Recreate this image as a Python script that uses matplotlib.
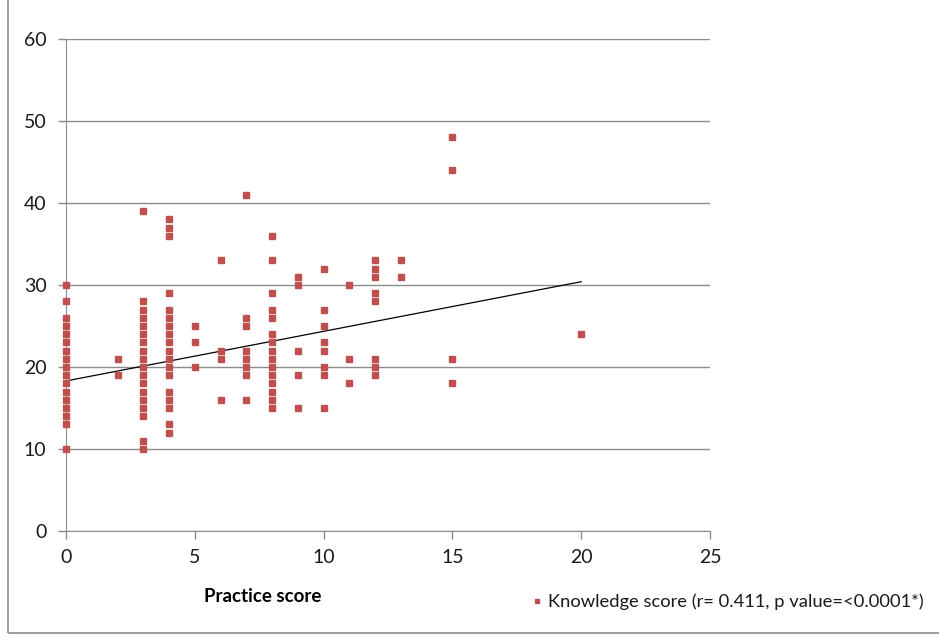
import matplotlib
matplotlib.use("Agg")
import matplotlib.pyplot as plt
from matplotlib.patches import Rectangle
import numpy as np

# knowledge scores read per practice score column
practice_levels = [0, 2, 3, 4, 5, 6, 7, 8, 9, 10, 11, 12, 13, 15, 20]
knowledge_by_level = [
    [30, 28, 26, 25, 24, 23, 22, 21, 20, 19, 18, 17, 16, 15, 14, 13, 10],
    [21, 19],
    [39, 28, 27, 26, 25, 24, 23, 22, 21, 20, 19, 18, 17, 16, 15, 14, 11, 10],
    [38, 37, 36, 29, 27, 26, 25, 24, 23, 22, 21, 20, 19, 17, 16, 15, 13, 12],
    [25, 23, 20],
    [33, 22, 21, 16],
    [41, 26, 25, 22, 21, 20, 19, 16],
    [36, 33, 29, 27, 26, 24, 23, 22, 21, 20, 19, 18, 17, 16, 15],
    [31, 30, 22, 19, 15],
    [32, 27, 25, 23, 22, 20, 19, 15],
    [30, 21, 18],
    [33, 32, 31, 29, 28, 21, 20, 19],
    [33, 31],
    [48, 44, 21, 18],
    [24],
]

# trend line as drawn in the original (hidden duplicate points shift it from a refit)
trend_x = [0, 20]
trend_y = [18.3, 30.4]

x_ticks = [0, 5, 10, 15, 20, 25]
y_ticks = [0, 10, 20, 30, 40, 50, 60]
legend_label = "Knowledge score (r= 0.411, p value=<0.0001*)"
x_label = "Practice score"

practice = np.concatenate([[p] * len(k) for p, k in zip(practice_levels, knowledge_by_level)])
knowledge = np.concatenate(knowledge_by_level)

plt.rcParams["font.family"] = ["Lato", "DejaVu Sans"]

fig = plt.figure(figsize=(9.39, 6.41), dpi=100)
ax = fig.add_axes([66 / 939, 110 / 641, 644 / 939, 492 / 641])

grid_color = "#8c8c8c"
ax.set_axisbelow(True)
ax.yaxis.grid(True, color=grid_color, linewidth=1)

ax.plot(practice, knowledge, "s", color="#C0504D", markersize=4.2, linestyle="none",
        label=legend_label, zorder=3, clip_on=False)
ax.plot(trend_x, trend_y, color="black", linewidth=0.9, zorder=2)

ax.set_xlim(0, 25)
ax.set_ylim(0, 60)
ax.set_xticks(x_ticks)
ax.set_yticks(y_ticks)

for side in ("top", "right"):
    ax.spines[side].set_visible(False)
for side in ("left", "bottom"):
    ax.spines[side].set_color(grid_color)
ax.tick_params(axis="both", colors=grid_color, length=6, width=1, labelcolor="#1a1a1a",
               labelsize=14)
ax.tick_params(axis="y", pad=8)
ax.tick_params(axis="x", pad=7)

fig.text(263 / 939, 1 - 597 / 641, x_label, ha="center", va="center",
         fontsize=13.5, fontweight="bold", color="#000000")

fig.legend(loc="center left", bbox_to_anchor=(520 / 939, 1 - 602 / 641), frameon=False,
           handletextpad=0.1, handlelength=1.0, fontsize=13.2, labelcolor="#1a1a1a",
           markerscale=0.8, borderaxespad=0)

fig.patches.append(Rectangle((8 / 939, 8 / 641), 2, 2, transform=fig.transFigure,
                             fill=False, edgecolor=grid_color, linewidth=1.2))

fig.savefig("out.png", dpi=100)
